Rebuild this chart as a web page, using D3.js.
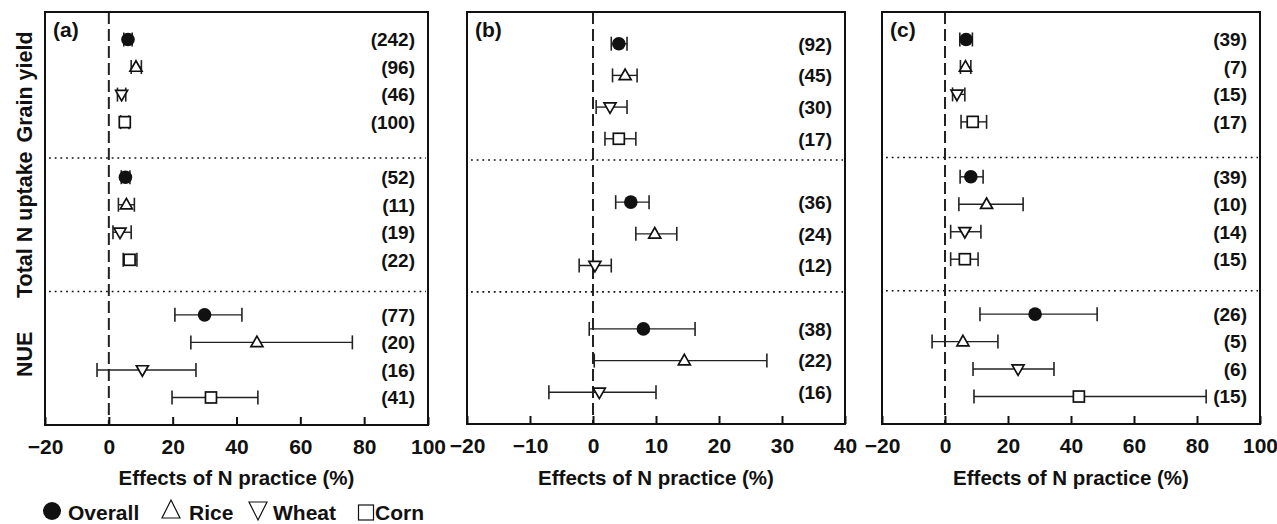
<!DOCTYPE html>
<html><head><meta charset="utf-8">
<script src="https://cdn.jsdelivr.net/npm/d3@7"></script>
<style>
body{margin:0;background:#fff}
svg{display:block}
text{font-family:"Liberation Sans",Arial,Helvetica,sans-serif;font-weight:bold;fill:#111}
</style>
</head><body>
<svg id="chart" width="1277" height="524"></svg>
<script>
// ---------- data ----------
const crops = ["Overall", "Rice", "Wheat", "Corn"];
const groups = ["Grain yield", "Total N uptake", "NUE"];
const panelLabels = ["(a)", "(b)", "(c)"];
const xTicksA = [-20, 0, 20, 40, 60, 80, 100];
const xTicksB = [-20, -10, 0, 10, 20, 30, 40];
const xTicksC = [-20, 0, 20, 40, 60, 80, 100];
const xTitle = "Effects of N practice (%)";

// panel (a): rows = groups, columns = crops
const aMean = [[6.0, 8.5, 4.0, 5.0], [5.2, 5.5, 3.5, 6.5], [30.0, 46.4, 10.5, 32.0]];
const aLow  = [[4.7, 7.0, 2.7, 3.7], [3.9, 3.0, 1.3, 4.5], [20.7, 25.7, -3.7, 19.8]];
const aHigh = [[7.3, 10.2, 5.3, 6.3], [6.6, 8.0, 7.0, 8.8], [41.7, 76.3, 27.3, 46.7]];
const aN    = [[242, 96, 46, 100], [52, 11, 19, 22], [77, 20, 16, 41]];

// panel (b)
const bMean = [[4.1, 5.1, 2.7, 4.1], [6.0, 9.8, 0.3, null], [8.0, 14.5, 1.0, null]];
const bLow  = [[2.9, 3.1, 0.5, 1.9], [3.6, 6.8, -2.2, null], [-0.6, 0.2, -7.0, null]];
const bHigh = [[5.4, 7.0, 5.4, 6.8], [8.9, 13.3, 2.9, null], [16.2, 27.6, 10.0, null]];
const bN    = [[92, 45, 30, 17], [36, 24, 12, null], [38, 22, 16, null]];

// panel (c)
const cMean = [[6.7, 6.5, 3.8, 8.8], [8.2, 13.2, 6.3, 6.3], [28.6, 5.7, 23.2, 42.5]];
const cLow  = [[4.7, 4.9, 2.4, 5.1], [4.8, 4.4, 1.8, 1.8], [11.1, -4.1, 8.9, 9.2]];
const cHigh = [[8.7, 8.2, 6.3, 13.2], [12.1, 24.8, 11.4, 10.5], [48.3, 16.8, 34.6, 82.9]];
const cN    = [[39, 7, 15, 17], [39, 10, 14, 15], [26, 5, 6, 15]];

// ---------- layout ----------
const panels = [
  {label: panelLabels[0], mean: aMean, low: aLow, high: aHigh, n: aN, ticks: xTicksA, domain: [-20, 100],
   left: 45, right: 428, top: 12, bottom: 425, slots: 15, starts: [1, 6, 11], seps: [5.3, 10.15]},
  {label: panelLabels[1], mean: bMean, low: bLow, high: bHigh, n: bN, ticks: xTicksB, domain: [-20, 40],
   left: 467, right: 845, top: 12, bottom: 424, slots: 13, starts: [1, 6, 10], seps: [4.67, 8.83]},
  {label: panelLabels[2], mean: cMean, low: cLow, high: cHigh, n: cN, ticks: xTicksC, domain: [-20, 100],
   left: 882, right: 1260, top: 12, bottom: 424, slots: 15, starts: [1, 6, 11], seps: [5.3, 10.15]}
];

const svg = d3.select("#chart");
const ink = "#111";

function marker(g, ci, x, y) {
  if (ci === 0) {
    g.append("circle").attr("cx", x).attr("cy", y).attr("r", 6.8).attr("fill", ink);
  } else if (ci === 1) {
    const h = 10.5, w = 12;
    g.append("path").attr("d", `M${x},${y - h * 0.6}L${x + w / 2},${y + h * 0.4}L${x - w / 2},${y + h * 0.4}Z`)
      .attr("fill", "#fff").attr("stroke", ink).attr("stroke-width", 1.7);
  } else if (ci === 2) {
    const h = 10.5, w = 12;
    g.append("path").attr("d", `M${x},${y + h * 0.6}L${x + w / 2},${y - h * 0.4}L${x - w / 2},${y - h * 0.4}Z`)
      .attr("fill", "#fff").attr("stroke", ink).attr("stroke-width", 1.7);
  } else {
    const a = 11;
    g.append("rect").attr("x", x - a / 2).attr("y", y - a / 2).attr("width", a).attr("height", a)
      .attr("fill", "#fff").attr("stroke", ink).attr("stroke-width", 1.7);
  }
}

panels.forEach((p, pi) => {
  const x = d3.scaleLinear().domain(p.domain).range([p.left, p.right]);
  const y = d3.scaleLinear().domain([0, p.slots]).range([p.top, p.bottom]);
  const g = svg.append("g");

  // separators
  p.seps.forEach(s => {
    g.append("line").attr("x1", p.left + 4).attr("x2", p.right - 2)
      .attr("y1", y(s)).attr("y2", y(s))
      .attr("stroke", ink).attr("stroke-width", 1.6).attr("stroke-dasharray", "1.8,3.9");
  });

  // zero line
  g.append("line").attr("x1", x(0)).attr("x2", x(0)).attr("y1", p.top).attr("y2", p.bottom)
    .attr("stroke", "#222").attr("stroke-width", 2).attr("stroke-dasharray", "12,5");

  // axis
  const axis = d3.axisBottom(x).tickValues(p.ticks).tickSize(-8).tickPadding(14)
    .tickFormat(d3.format("d"));
  const ag = g.append("g").attr("transform", `translate(0,${p.bottom})`).call(axis);
  ag.select(".domain").remove();
  ag.selectAll(".tick line").attr("stroke", ink).attr("stroke-width", 2);
  ag.selectAll(".tick text").attr("fill", ink).style("font-size", "21px")
    .style("font-family", '"Liberation Sans",Arial,sans-serif').style("font-weight", "bold");

  // frame
  g.append("rect").attr("x", p.left).attr("y", p.top).attr("width", p.right - p.left)
    .attr("height", p.bottom - p.top).attr("fill", "none").attr("stroke", ink).attr("stroke-width", 2);

  // rows
  groups.forEach((gr, gi) => {
    crops.forEach((cr, ci) => {
      const m = p.mean[gi][ci];
      if (m === null || m === undefined) return;
      const yy = y(p.starts[gi] + ci);
      const x1 = x(p.low[gi][ci]), x2 = x(p.high[gi][ci]);
      g.append("line").attr("x1", x1).attr("x2", x2).attr("y1", yy).attr("y2", yy)
        .attr("stroke", "#222").attr("stroke-width", 1.4);
      [x1, x2].forEach(xc => g.append("line").attr("x1", xc).attr("x2", xc)
        .attr("y1", yy - 7).attr("y2", yy + 7).attr("stroke", "#222").attr("stroke-width", 1.6));
      marker(g, ci, x(m), yy);
      g.append("text").attr("x", p.right - 13).attr("y", yy).attr("dy", "0.36em")
        .attr("text-anchor", "end").style("font-size", "19px").text(`(${p.n[gi][ci]})`);
    });
  });

  // panel label
  g.append("text").attr("x", p.left + 8).attr("y", p.top + 25).style("font-size", "21px").text(p.label);

  // x title
  g.append("text").attr("x", (p.left + p.right) / 2).attr("y", 485).attr("text-anchor", "middle")
    .style("font-size", "20.5px").text(xTitle);

  // group labels (left of first panel)
  if (pi === 0) {
    const bounds = [p.top, y(p.seps[0]), y(p.seps[1]), p.bottom];
    groups.forEach((gr, gi) => {
      const cy = (bounds[gi] + bounds[gi + 1]) / 2 + (gi === 0 ? 2 : gi === 2 ? -4 : 0);
      g.append("text").attr("transform", `translate(32,${cy}) rotate(-90)`)
        .attr("text-anchor", "middle").style("font-size", "21.5px").text(gr);
    });
  }
});

// legend
const lg = svg.append("g");
const legendX = [52, 171, 258, 366];
const legendTextX = [68, 189, 273, 375];
crops.forEach((cr, ci) => {
  const cx = legendX[ci], cy = 511;
  if (ci === 0) {
    lg.append("circle").attr("cx", cx).attr("cy", cy).attr("r", 9).attr("fill", ink);
  } else if (ci === 1) {
    lg.append("path").attr("d", `M${cx},${cy - 11}L${cx + 9},${cy + 7}L${cx - 9},${cy + 7}Z`)
      .attr("fill", "none").attr("stroke", ink).attr("stroke-width", 1.2);
  } else if (ci === 2) {
    lg.append("path").attr("d", `M${cx},${cy + 9}L${cx + 9},${cy - 9}L${cx - 9},${cy - 9}Z`)
      .attr("fill", "none").attr("stroke", ink).attr("stroke-width", 1.2);
  } else {
    lg.append("rect").attr("x", cx - 7.5).attr("y", cy - 6).attr("width", 15).attr("height", 15)
      .attr("fill", "none").attr("stroke", ink).attr("stroke-width", 1.2);
  }
  lg.append("text").attr("x", legendTextX[ci]).attr("y", 520).style("font-size", "21px").text(cr);
});
</script>
</body></html>
